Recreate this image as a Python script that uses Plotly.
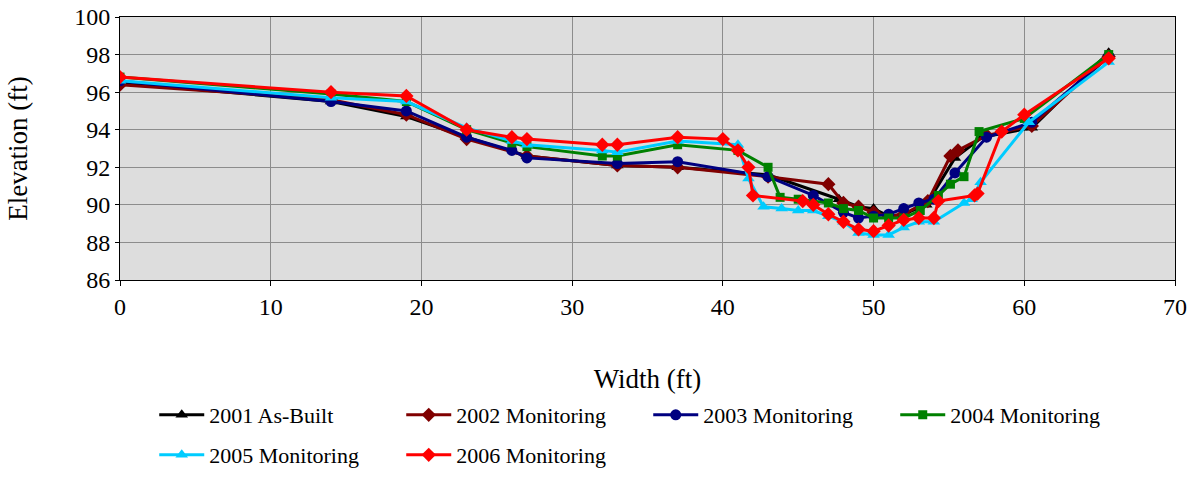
import plotly.graph_objects as go

# ---- data ----
x2001 = [0, 14, 19, 23, 27, 33, 37, 43, 47.7, 49, 50, 51, 52, 53.5, 55.4, 57.2, 60.5, 65.6]
y2001 = [96.5, 95.5, 94.7, 93.6, 92.6, 92.1, 92.0, 91.6, 90.3, 89.9, 89.8, 89.4, 89.5, 90.0, 92.5, 93.6, 94.1, 98.1]

x2002 = [0, 14, 19, 23, 27, 33, 37, 43, 47, 48, 49, 50, 51, 52, 53.6, 55.1, 55.6, 57.5, 60.5, 65.6]
y2002 = [96.4, 95.6, 94.8, 93.5, 92.6, 92.1, 92.0, 91.5, 91.1, 90.1, 89.9, 89.6, 89.4, 89.5, 90.2, 92.6, 92.9, 93.7, 94.2, 97.9]

x2003 = [0, 14, 19, 23, 26, 27, 33, 37, 43, 46, 48, 49, 50, 51, 52, 53, 54, 55.4, 57.5, 60.5, 65.6]
y2003 = [96.6, 95.5, 95.0, 93.6, 92.9, 92.5, 92.2, 92.3, 91.5, 90.5, 89.6, 89.3, 89.4, 89.5, 89.8, 90.1, 90.3, 91.7, 93.6, 94.4, 97.9]

x2004 = [0, 14, 19, 23, 26, 27, 32, 33, 37, 41, 43, 43.8, 45, 47, 48, 49, 50, 51, 52, 53.1, 54.3, 55.1, 56, 57, 60, 65.6]
y2004 = [96.8, 95.9, 95.5, 94.0, 93.3, 93.1, 92.6, 92.6, 93.2, 92.9, 92.0, 90.4, 90.3, 90.1, 89.8, 89.7, 89.3, 89.3, 89.3, 89.7, 90.5, 91.1, 91.5, 93.9, 94.6, 98.0]

x2005 = [0, 14, 19, 23, 26, 27, 32, 33, 37, 41, 41.7, 42.7, 43.9, 45, 46, 47, 48, 49, 50, 51, 52, 53, 54, 56, 56.5, 57.1, 60.3, 65.6]
y2005 = [96.6, 95.7, 95.5, 94.1, 93.4, 93.2, 92.9, 92.8, 93.4, 93.2, 91.4, 89.9, 89.8, 89.7, 89.7, 89.4, 89.1, 88.5, 88.4, 88.4, 88.8, 89.1, 89.1, 90.1, 90.3, 91.2, 94.4, 97.6]

x2006 = [0, 14, 19, 23, 26, 27, 32, 33, 37, 40, 41, 41.7, 42, 45.3, 46, 47, 48, 49, 50, 51, 52, 53, 54, 54.3, 56.7, 56.9, 58.5, 60, 65.6]
y2006 = [96.8, 96.0, 95.8, 94.0, 93.6, 93.5, 93.2, 93.2, 93.6, 93.5, 92.9, 92.0, 90.5, 90.2, 90.0, 89.5, 89.1, 88.7, 88.6, 88.9, 89.2, 89.3, 89.3, 90.2, 90.5, 90.6, 93.9, 94.8, 97.8]

series = [
    ("2001 As-Built", x2001, y2001, "#000000", "triangle-up", "legend"),
    ("2002 Monitoring", x2002, y2002, "#800000", "diamond", "legend"),
    ("2003 Monitoring", x2003, y2003, "#000080", "circle", "legend"),
    ("2004 Monitoring", x2004, y2004, "#008000", "square", "legend"),
    ("2005 Monitoring", x2005, y2005, "#00CCFF", "triangle-up", "legend2"),
    ("2006 Monitoring", x2006, y2006, "#FF0000", "diamond", "legend2"),
]

FONT = "Liberation Serif, Times New Roman, serif"
TICK_FS = 24
LEG_FS = 22
TITLE_FS = 27

fig = go.Figure()
for name, xs, ys, color, sym, lg in series:
    fig.add_trace(go.Scatter(
        x=xs, y=ys, name=name, mode="lines+markers", legend=lg,
        line=dict(color=color, width=3),
        marker=dict(color=color, symbol=sym, size=11 if sym != "square" else 9),
    ))

legend_common = dict(
    orientation="h", xanchor="left", yanchor="middle",
    xref="container", yref="container",
    font=dict(family=FONT, size=LEG_FS), entrywidth=187, entrywidthmode="pixels",
    itemwidth=45, tracegroupgap=0, bgcolor="rgba(0,0,0,0)",
)

fig.update_layout(
    width=1191, height=477,
    margin=dict(l=120, r=16, t=17, b=197, autoexpand=False),
    paper_bgcolor="white",
    plot_bgcolor="#DDDDDD",
    font=dict(family=FONT, size=TICK_FS, color="black"),
    showlegend=True,
    legend=dict(x=0.1295, y=0.130, **legend_common),
    legend2=dict(x=0.1295, y=0.046, **legend_common),
)
fig.update_xaxes(
    range=[0, 70], dtick=10, tick0=0,
    showgrid=True, gridcolor="#8C8C8C", gridwidth=1,
    showline=True, linecolor="black", linewidth=1, mirror=True,
    ticks="outside", ticklen=5, tickcolor="black",
    zeroline=False, automargin=False, ticklabeloverflow="allow",
    tickfont=dict(family=FONT, size=TICK_FS),
    title=dict(text="Width (ft)", standoff=50, font=dict(family=FONT, size=TITLE_FS)),
)
fig.update_yaxes(
    range=[86, 100], dtick=2, tick0=86,
    showgrid=True, gridcolor="#8C8C8C", gridwidth=1,
    showline=True, linecolor="black", linewidth=1, mirror=True,
    ticks="outside", ticklen=4, tickcolor="black",
    zeroline=False, automargin=False, ticklabeloverflow="allow",
    tickfont=dict(family=FONT, size=TICK_FS),
    title=dict(text="Elevation (ft)", standoff=38, font=dict(family=FONT, size=TITLE_FS)),
)

fig.write_html(
    "out.html",
    config={"displayModeBar": False},
    post_script="document.body.style.margin='0';document.body.style.overflow='hidden';",
)
